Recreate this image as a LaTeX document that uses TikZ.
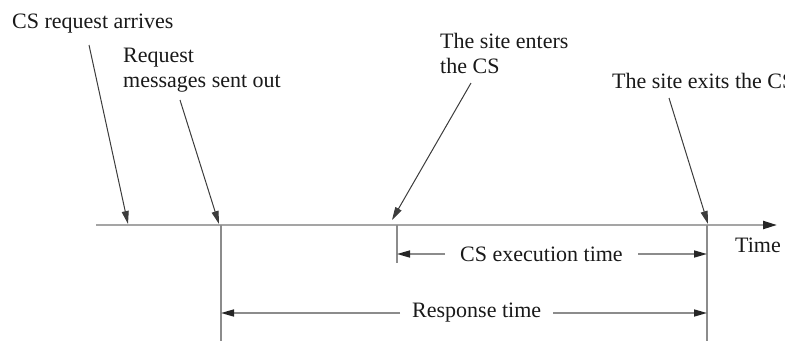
\documentclass[tikz,border=0pt]{standalone}
\usepackage{fontspec}
\setmainfont{Liberation Serif}
\usetikzlibrary{arrows.meta}
\definecolor{axisgray}{RGB}{165,165,165}
\definecolor{linegray}{RGB}{140,140,140}
\definecolor{ptrdark}{RGB}{60,60,60}
\begin{document}
\begin{tikzpicture}[x=1pt,y=-1pt,
  lbl/.style={anchor=north west,inner sep=0pt,align=left,
    font=\fontsize{22}{25}\selectfont,text=black!90},
  pointer/.style={draw=ptrdark,line width=1pt,
    -{Triangle[length=13pt,width=7pt,color=ptrdark]}},
  tick/.style={draw=linegray,line width=1.8pt},
  span/.style={draw=linegray,line width=1.6pt,
    -{Triangle[length=13pt,width=7pt,color=black!85]}}]
\useasboundingbox (0,0) rectangle (785,341);
% axis
\coordinate (a0) at (96,225);
\coordinate (a1) at (777,225);
\draw[draw=axisgray,line width=2.2pt,-{Triangle[length=14pt,width=8pt,color=black!85]}] (a0) -- (a1);
% vertical marks
\coordinate (r0) at (221,225);  \coordinate (r1) at (221,341);
\coordinate (e0) at (397,225);  \coordinate (e1) at (397,263);
\coordinate (x0) at (707,225);  \coordinate (x1) at (707,341);
\draw[tick] (r0) -- (r1);
\draw[tick] (e0) -- (e1);
\draw[tick] (x0) -- (x1);
% labels
\node[lbl] (arr) at (12,14) {CS request arrives};
\node[lbl] (req) at (123,48) {Request\\messages sent out};
\node[lbl] (ent) at (440,33) {The site enters\\the CS};
\node[lbl] (ext) at (612,73) {The site exits the CS};
\node[lbl] (tim) at (735,238) {Time};
\node[lbl] (exe) at (460,247) {CS execution time};
\node[lbl] (rsp) at (412,303) {Response time};
% pointers
\coordinate (p1s) at (89,45);   \coordinate (p1e) at (128,224);
\coordinate (p2s) at (180,100); \coordinate (p2e) at (219,224);
\coordinate (p3s) at (471,83);  \coordinate (p3e) at (392,220);
\coordinate (p4s) at (669,98);  \coordinate (p4e) at (708,224);
\draw[pointer] (p1s) -- (p1e);
\draw[pointer] (p2s) -- (p2e);
\draw[pointer] (p3s) -- (p3e);
\draw[pointer] (p4s) -- (p4e);
% spans
\coordinate (c0) at (445,254); \coordinate (c1) at (397,254);
\coordinate (c2) at (638,254); \coordinate (c3) at (707,254);
\draw[span] (c0) -- (c1);
\draw[span] (c2) -- (c3);
\coordinate (s0) at (400,313); \coordinate (s1) at (221,313);
\coordinate (s2) at (553,313); \coordinate (s3) at (707,313);
\draw[span] (s0) -- (s1);
\draw[span] (s2) -- (s3);
\end{tikzpicture}
\end{document}
